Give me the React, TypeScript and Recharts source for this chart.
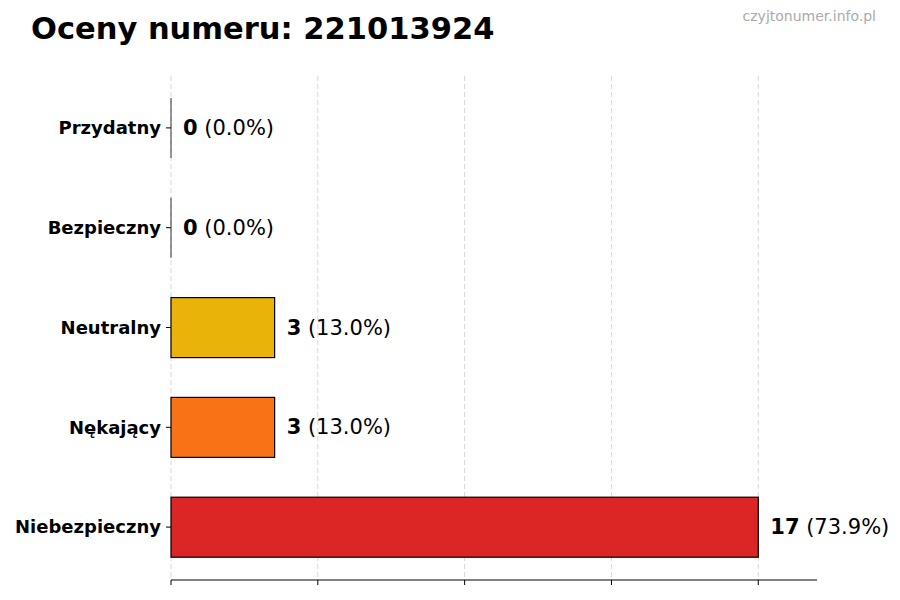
import React from 'react';
import { BarChart, Bar, XAxis, YAxis, CartesianGrid, LabelList, Cell } from 'recharts';

const categories = ['Przydatny', 'Bezpieczny', 'Neutralny', 'Nękający', 'Niebezpieczny'];
const counts = [0, 0, 3, 3, 17];
const percents = ['0.0', '0.0', '13.0', '13.0', '73.9'];
const barColors = ['#22c55e', '#3b82f6', '#eab308', '#f97316', '#dc2626'];
const xTicks = [0, 4.25, 8.5, 12.75, 17];
const xMax = 18.7;

const FONT = '"DejaVu Sans", sans-serif';

const chartData = categories.map((name, i) => ({ name, count: counts[i] }));

// zero-width bars still show a thin edge line, like the original
const BarShape = (props: any) => {
  const { x, y, width, height, fill } = props;
  if (!width) {
    return <line x1={x} x2={x} y1={y} y2={y + height} stroke="#333" strokeWidth={1} />;
  }
  return <rect x={x} y={y} width={width} height={height} fill={fill} stroke="#000" strokeWidth={1.2} />;
};

const renderValueLabel = (props: any) => {
  const { x, y, width, height, index } = props;
  return (
    <text
      x={x + (width || 0) + 12}
      y={y + height / 2}
      dominantBaseline="central"
      fontSize={21}
      fontFamily={FONT}
      fill="#000"
    >
      <tspan fontWeight="bold">{counts[index]}</tspan>
      <tspan>{` (${percents[index]}%)`}</tspan>
    </text>
  );
};

const App = () => {
  return (
    <div style={{ position: 'absolute', left: 0, top: 0, width: 900, height: 600, background: '#fff', fontFamily: FONT }}>
      <BarChart
        width={900}
        height={600}
        data={chartData}
        layout="vertical"
        margin={{ top: 76, right: 83, bottom: 0, left: 0 }}
      >
        <XAxis
          type="number"
          domain={[0, xMax]}
          ticks={xTicks}
          tickFormatter={() => ''}
          axisLine={{ stroke: '#000' }}
          tickLine={{ stroke: '#000' }}
          tickSize={5}
          height={20}
        />
        <YAxis
          type="category"
          dataKey="name"
          width={171}
          padding={{ top: 2, bottom: 3 }}
          axisLine={false}
          tickLine={{ stroke: '#000' }}
          tickSize={5}
          tickMargin={5}
          tick={{ fill: '#000', fontSize: 18, fontWeight: 'bold', fontFamily: FONT }}
        />
        <Bar dataKey="count" barSize={60} shape={BarShape} isAnimationActive={false}>
          {chartData.map((d, i) => (
            <Cell key={d.name} fill={barColors[i]} />
          ))}
          <LabelList dataKey="count" content={renderValueLabel} />
        </Bar>
        <CartesianGrid
          horizontal={false}
          syncWithTicks
          stroke="#b0b0b0"
          strokeOpacity={0.5}
          strokeDasharray="5 3"
        />
      </BarChart>
      <svg width={900} height={600} style={{ position: 'absolute', left: 0, top: 0, pointerEvents: 'none' }}>
        <text x={31} y={39} fontSize={30.5} fontWeight="bold" fontFamily={FONT} fill="#000">
          Oceny numeru: 221013924
        </text>
        <text x={876} y={21} textAnchor="end" fontSize={14} fontFamily={FONT} fill="#aaaaaa">
          czyjtonumer.info.pl
        </text>
      </svg>
    </div>
  );
};

export default App;
